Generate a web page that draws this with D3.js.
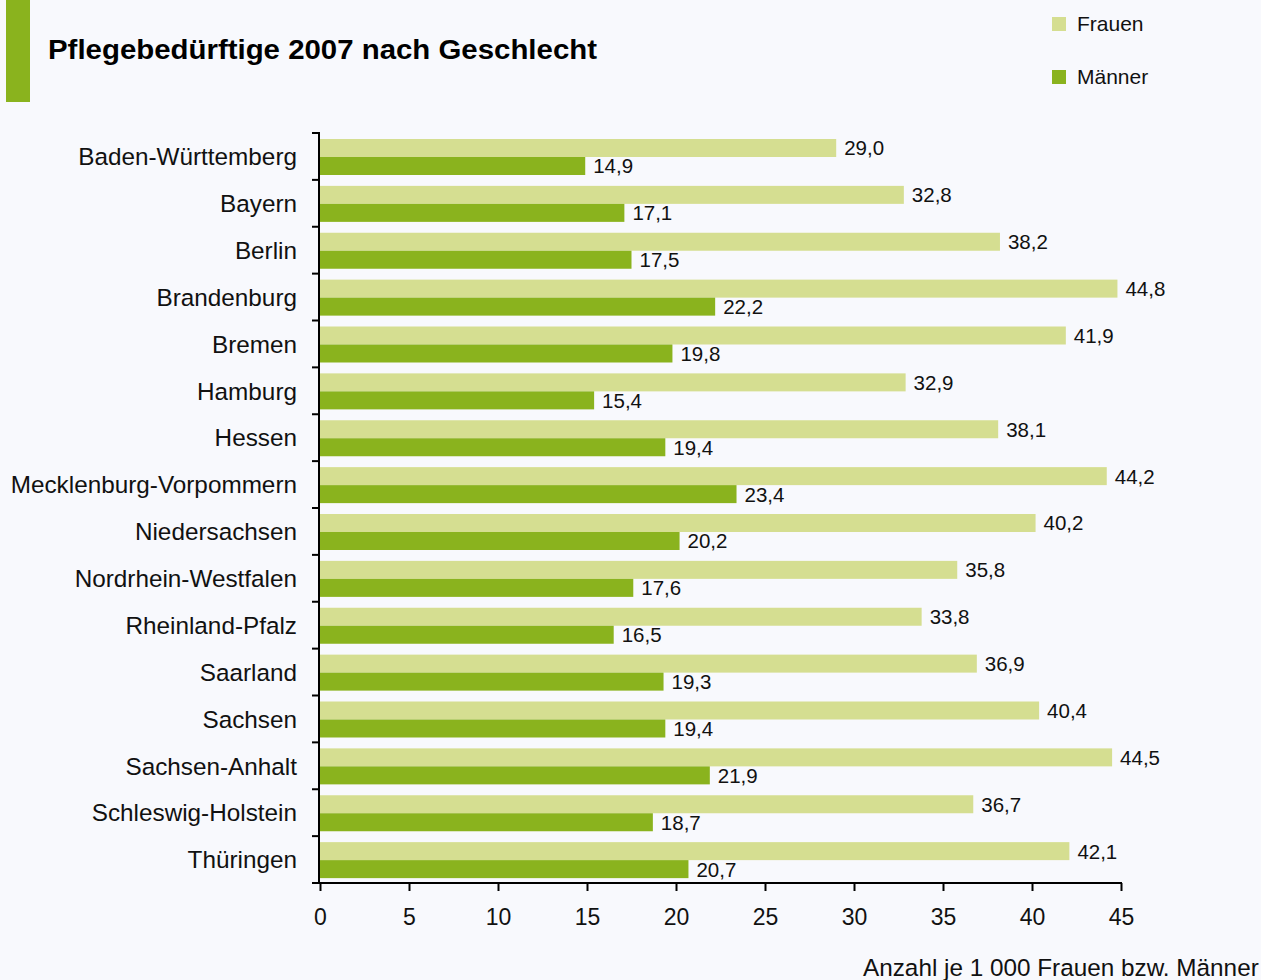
<!DOCTYPE html>
<html>
<head>
<meta charset="utf-8">
<script src="https://cdn.jsdelivr.net/npm/d3@7"></script>
<style>
  html, body { margin: 0; padding: 0; background: #f8f9fd; }
  svg { display: block; font-family: "Liberation Sans", Arial, sans-serif; }
</style>
</head>
<body>
<svg id="chart" width="1261" height="980"></svg>
<script>
// Pflegebedürftige je 1 000 Einwohner nach Bundesland und Geschlecht, 2007
const laender = [
  "Baden-Württemberg", "Bayern", "Berlin", "Brandenburg", "Bremen", "Hamburg",
  "Hessen", "Mecklenburg-Vorpommern", "Niedersachsen", "Nordrhein-Westfalen",
  "Rheinland-Pfalz", "Saarland", "Sachsen", "Sachsen-Anhalt",
  "Schleswig-Holstein", "Thüringen"
];
const frauen = [29.0, 32.8, 38.2, 44.8, 41.9, 32.9, 38.1, 44.2, 40.2, 35.8, 33.8, 36.9, 40.4, 44.5, 36.7, 42.1];
const maenner = [14.9, 17.1, 17.5, 22.2, 19.8, 15.4, 19.4, 23.4, 20.2, 17.6, 16.5, 19.3, 19.4, 21.9, 18.7, 20.7];
const serien = ["Frauen", "Männer"];
const xTicks = [0, 5, 10, 15, 20, 25, 30, 35, 40, 45];

const farben = { "Frauen": "#d5de91", "Männer": "#8ab31e" };

const svg = d3.select("#chart");

// Kopfbereich: Akzentbalken und Titel
svg.append("rect").attr("x", 6).attr("y", 0).attr("width", 24).attr("height", 102)
  .attr("fill", "#8ab31e");
svg.append("text").attr("x", 48).attr("y", 59)
  .attr("font-size", 27).attr("font-weight", "bold").attr("fill", "#000")
  .attr("textLength", 549).attr("lengthAdjust", "spacingAndGlyphs")
  .text("Pflegebedürftige 2007 nach Geschlecht");

// Legende
const legende = svg.append("g");
serien.forEach((s, i) => {
  const yy = 17 + i * 53;
  legende.append("rect").attr("x", 1052).attr("y", yy).attr("width", 14).attr("height", 14)
    .attr("fill", farben[s]);
  legende.append("text").attr("x", 1077).attr("y", yy + 7).attr("dy", "0.35em")
    .attr("font-size", 21).attr("fill", "#111").text(s);
});

// Skalen
const x = d3.scaleLinear().domain([0, 45]).range([320, 1121]);
const y = d3.scaleBand().domain(laender).range([133, 883]);
const yInner = d3.scaleBand().domain(serien).range([6, 42]);

const daten = laender.map((l, i) => ({ land: l, werte: [
  { serie: "Frauen", wert: frauen[i] },
  { serie: "Männer", wert: maenner[i] }
]}));

const fmt = v => d3.format(".1f")(v).replace(".", ",");

// Balken
const gruppen = svg.append("g").selectAll("g").data(daten).join("g")
  .attr("transform", d => `translate(0,${y(d.land)})`);

gruppen.selectAll("rect").data(d => d.werte).join("rect")
  .attr("x", x(0))
  .attr("y", d => yInner(d.serie))
  .attr("width", d => x(d.wert) - x(0))
  .attr("height", yInner.bandwidth())
  .attr("fill", d => farben[d.serie]);

gruppen.selectAll("text").data(d => d.werte).join("text")
  .attr("x", d => x(d.wert) + 8)
  .attr("y", d => yInner(d.serie) + yInner.bandwidth() / 2)
  .attr("dy", "0.36em")
  .attr("font-size", 20.5).attr("fill", "#111")
  .text(d => fmt(d.wert));

// Kategorienbeschriftung
svg.append("g").selectAll("text").data(laender).join("text")
  .attr("x", 297)
  .attr("y", d => y(d) + y.bandwidth() / 2)
  .attr("dy", "0.36em")
  .attr("text-anchor", "end")
  .attr("font-size", 24.3).attr("fill", "#111")
  .text(d => d);

// Y-Achse mit Trennstrichen zwischen den Ländern
const yAchse = svg.append("g");
const grenzen = laender.map(l => y(l)).concat([y.range()[1]]);
yAchse.append("line").attr("x1", 319).attr("x2", 319).attr("y1", 132).attr("y2", 884)
  .attr("stroke", "#000").attr("stroke-width", 2);
yAchse.selectAll("line.tick").data(grenzen).join("line").attr("class", "tick")
  .attr("x1", 312).attr("x2", 320).attr("y1", d => d).attr("y2", d => d)
  .attr("stroke", "#000").attr("stroke-width", 2);

// X-Achse
const xAchse = svg.append("g").attr("transform", "translate(0,883)")
  .call(d3.axisBottom(x).tickValues(xTicks).tickSize(8).tickPadding(18).tickFormat(d3.format("d")));
xAchse.select(".domain").attr("d", `M${318},0H${1122}`).attr("stroke", "#000").attr("stroke-width", 2);
xAchse.selectAll(".tick line").attr("stroke", "#000").attr("stroke-width", 2);
xAchse.selectAll(".tick text").attr("font-size", 23).attr("fill", "#111")
  .attr("font-family", "'Liberation Sans', Arial, sans-serif");

// Achsentitel
svg.append("text").attr("x", 863).attr("y", 976)
  .attr("font-size", 24.3).attr("fill", "#111")
  .text("Anzahl je 1 000 Frauen bzw. Männer");
</script>
</body>
</html>
